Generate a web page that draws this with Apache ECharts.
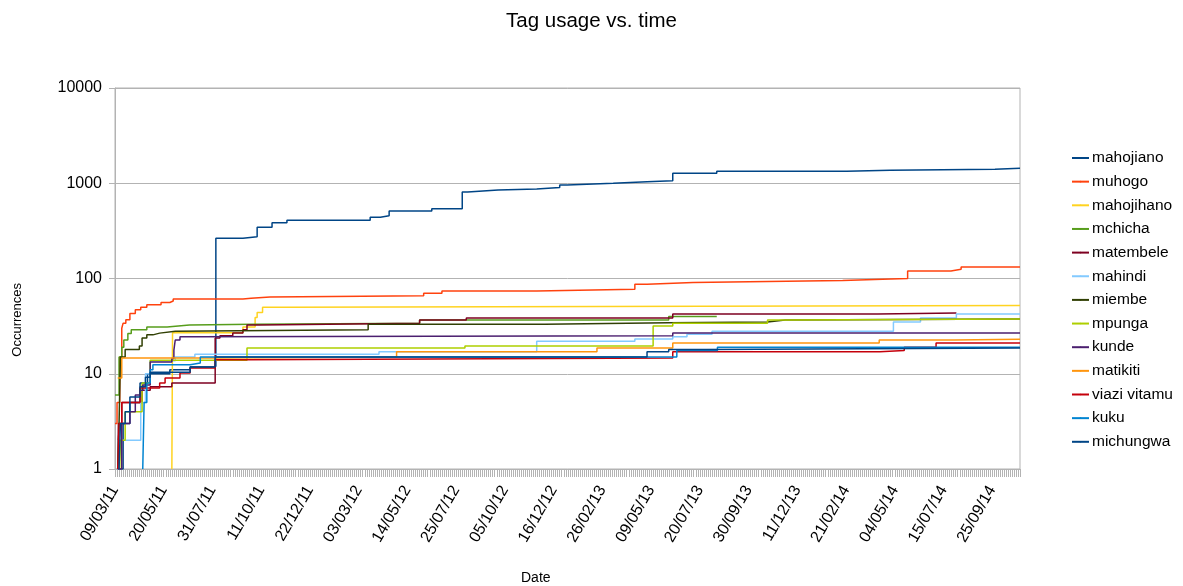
<!DOCTYPE html>
<html>
<head>
<meta charset="utf-8">
<script src="https://cdn.jsdelivr.net/npm/echarts@6/dist/echarts.min.js"></script>
<style>
html,body{margin:0;padding:0;background:#fff;}
#chart{width:1183px;height:586px;}
</style>
</head>
<body>
<div id="chart"></div>
<script>
// x values are days since 09/03/11 (start of the date axis)
const START_DATE = Date.UTC(2011, 2, 9);
const END_DAY = 1337;
const TICK_DAYS = 72;

const seriesNames = ['mahojiano','muhogo','mahojihano','mchicha','matembele','mahindi','miembe','mpunga','kunde','matikiti','viazi vitamu','kuku','michungwa'];
const seriesColors = ['#004586','#ff420e','#ffd320','#579d1c','#7e0021','#83caff','#314004','#aecf00','#4b1f6f','#ff950e','#c5000b','#0084d1','#004586'];

// [day, occurrences] change points (step series)
const mahojiano = [[4,1],[12,3],[22,5],[37,8],[48,10],[81,11],[111,11.8],[146,12],[149,265],[189,275],[210,345],[232,385],[254,410],[377,440],[392,455],[405,510],[468,540],[513,810],[521,850],[566,870],[623,900],[657,960],[668,1000],[736,1040],[786,1060],[824,1270],[889,1340],[1081,1370],[1145,1400],[1300,1440],[1337,1440]];
const muhogo = [[0,3],[3,5],[7,15],[10,30],[12,34],[16,37],[22,43],[30,47],[38,50],[47,53],[68,56],[81,58],[86,61],[189,62],[201,64],[229,66],[456,70],[483,74],[623,77],[768,87],[786,91],[854,95],[1075,98],[1134,100],[1171,120],[1235,125],[1250,132],[1337,132]];
const mahojihano = [[84,1],[85,27],[189,31],[207,39],[210,44],[218,50],[251,52],[1337,52]];
const mchicha = [[0,6],[6,15],[10,19],[13,22.6],[19,26.5],[24,29],[47,31],[77,32.5],[110,33],[204,34],[450,36.6],[818,40],[889,40]];
const matembele = [[4,1],[5,3],[10,5],[40,6.7],[52,7.3],[84,8],[148,23.7],[155,25],[174,26.7],[189,29],[195,32.5],[213,34],[450,36.6],[519,38.5],[824,42.5],[1127,43.5],[1243,43.5]];
const mahindi = [[4,1],[5,2],[38,5],[45,10],[52,13.7],[89,15],[118,16],[390,17],[623,22],[768,23.2],[824,24.5],[845,26],[882,28],[1150,35],[1190,38.5],[1243,42.5],[1337,42.5]];
const miembe = [[4,1],[6,3],[8,15],[15,18],[36,19.5],[40,23.7],[47,25.6],[56,26.7],[66,28],[89,29],[374,33],[635,34.3],[818,35],[964,36.6],[990,37.5],[1337,37.5]];
const mpunga = [[7,1],[8,2],[15,4],[40,8],[52,13.9],[195,18.6],[517,19.6],[795,31.7],[824,34],[964,36.6],[990,37.5],[1337,37.5]];
const kunde = [[4,1],[10,3],[22,4],[30,6],[37,6.7],[41,7.6],[52,13.3],[84,14.5],[87,17.7],[89,22.6],[96,24.5],[120,25],[824,26.7],[1337,26.7]];
const matikiti = [[4,9],[10,14.6],[155,15],[416,17],[712,18.6],[824,21],[1129,22.6],[1240,23],[1337,23]];
const viaziVitamu = [[4,1],[6,3],[10,5],[37,7.1],[66,8],[74,9],[96,10.2],[111,11.5],[148,14],[195,14.6],[824,17],[1130,17.5],[1166,19],[1213,21],[1337,21]];
const kuku = [[41,1],[43,5],[47,8],[52,11],[56,12.4],[111,13],[126,15],[830,17.5],[890,19],[1337,19]];
const michungwa = [[6,1],[8,3],[15,4],[22,5.7],[37,7.3],[45,9.2],[52,10.4],[111,11.8],[148,15],[786,17],[818,18],[874,18.6],[1337,18.6]];

const seriesData = [mahojiano,muhogo,mahojihano,mchicha,matembele,mahindi,miembe,mpunga,kunde,matikiti,viaziVitamu,kuku,michungwa];

function pad(n){return (n<10?'0':'')+n;}
function dayLabel(d){
  const dt = new Date(START_DATE + Math.round(d)*86400000);
  return pad(dt.getUTCDate())+'/'+pad(dt.getUTCMonth()+1)+'/'+pad(dt.getUTCFullYear()%100);
}

const FONT = '"Liberation Sans", Arial, sans-serif';
const chart = echarts.init(document.getElementById('chart'));
chart.setOption({
  animation:false,
  backgroundColor:'#fff',
  title:{text:'Tag usage vs. time',left:'center',top:6,textStyle:{fontFamily:FONT,fontSize:20.5,fontWeight:'normal',color:'#000'}},
  grid:{left:115,right:163,top:88,bottom:117,show:true,borderColor:'#b3b3b3',borderWidth:1},
  legend:{
    orient:'vertical',left:1066,top:145,itemWidth:17,itemHeight:2,itemGap:7.65,
    data:seriesNames,
    textStyle:{fontFamily:FONT,fontSize:15.5,color:'#000',lineHeight:16,padding:[0,0,0,-2]}
  },
  xAxis:{
    type:'value',min:0,max:END_DAY,interval:TICK_DAYS,
    axisLine:{show:true,lineStyle:{color:'#b3b3b3'}},
    axisTick:{show:true,length:8,lineStyle:{color:'#b3b3b3'}},
    minorTick:{show:true,splitNumber:24,length:8,lineStyle:{color:'#b3b3b3'}},
    splitLine:{show:false},
    axisLabel:{rotate:60,margin:18,color:'#000',fontFamily:FONT,fontSize:16,showMaxLabel:false,formatter:dayLabel}
  },
  yAxis:{
    type:'log',logBase:10,min:1,max:10000,
    axisLine:{show:true,lineStyle:{color:'#b3b3b3'}},
    axisTick:{show:true,length:6,lineStyle:{color:'#b3b3b3'}},
    splitLine:{show:true,lineStyle:{color:'#b3b3b3'}},
    axisLabel:{color:'#000',fontFamily:FONT,fontSize:16,margin:13,formatter:v=>String(Math.round(v))}
  },
  graphic:[
    {type:'text',left:11,top:283,rotation:Math.PI/2,style:{text:'Occurrences',font:'13px '+FONT,fill:'#000'}},
    {type:'text',left:521,top:571,style:{text:'Date',font:'14px '+FONT,fill:'#000'}}
  ],
  series:seriesNames.map((n,i)=>({
    name:n,type:'line',step:'end',symbol:'none',showSymbol:false,
    data:seriesData[i],color:seriesColors[i],
    lineStyle:{width:1.5,color:seriesColors[i]}
  }))
});
</script>
</body>
</html>
